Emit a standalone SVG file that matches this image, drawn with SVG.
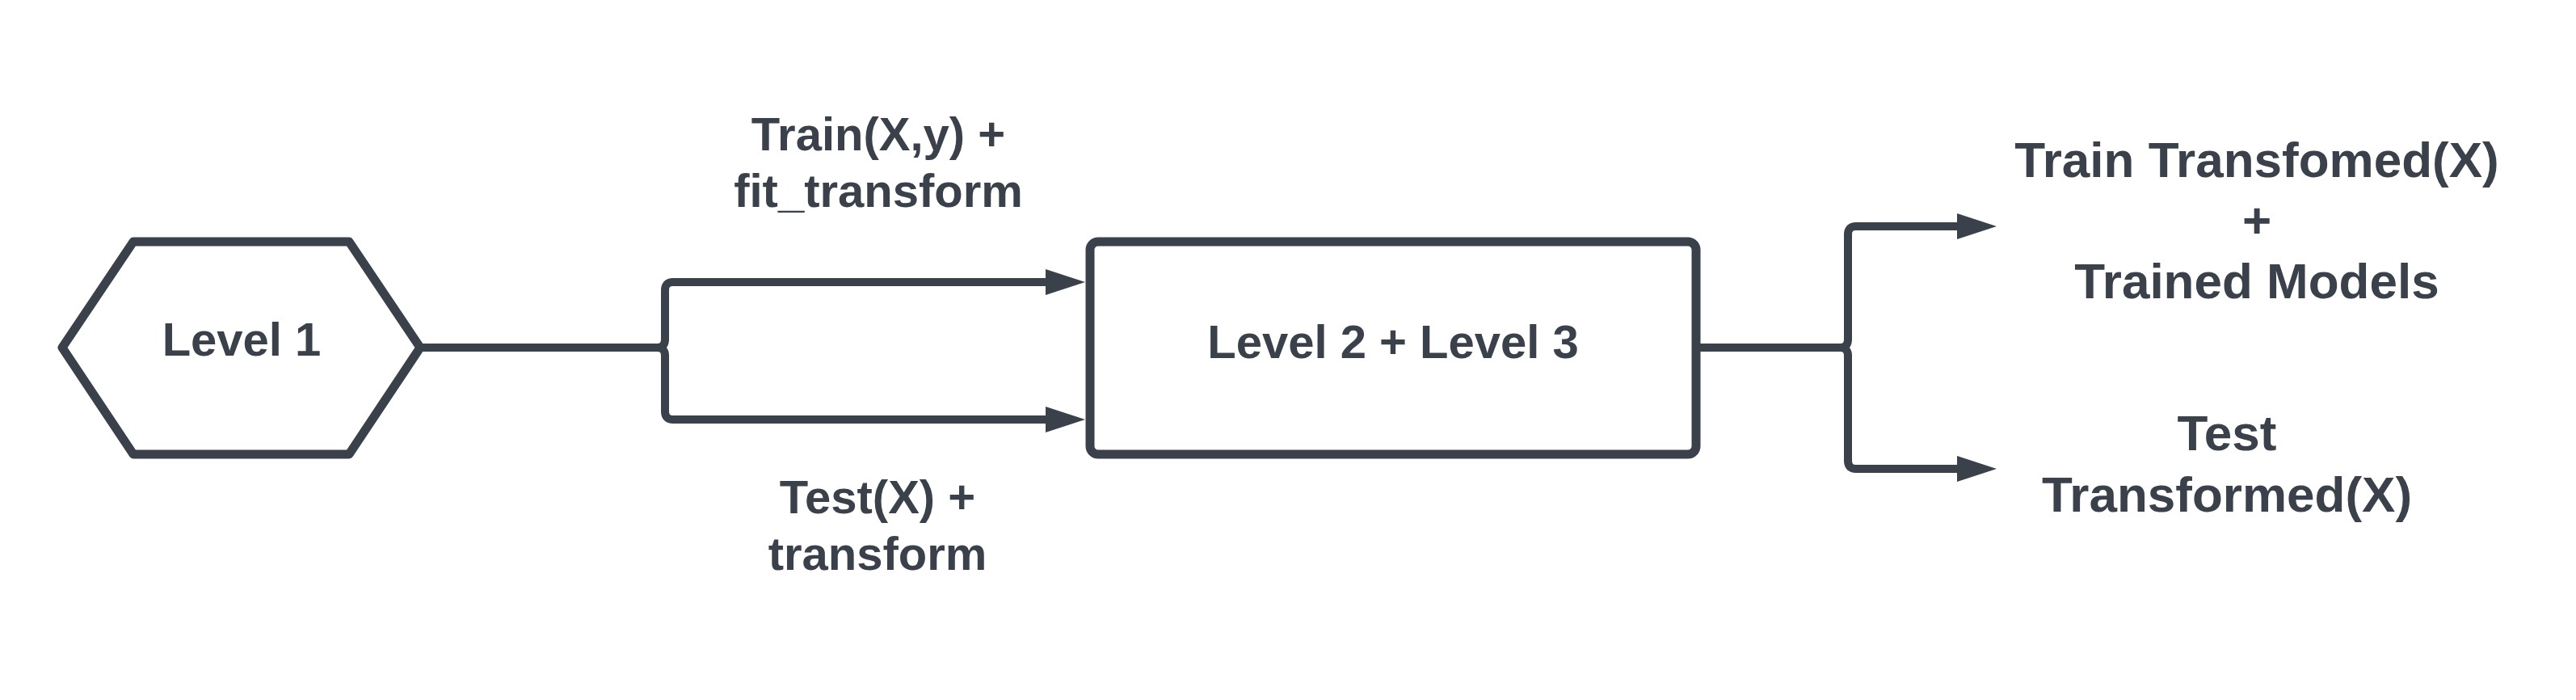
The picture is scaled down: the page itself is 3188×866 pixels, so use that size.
<svg xmlns="http://www.w3.org/2000/svg" width="3188" height="866" viewBox="0 0 3188 866">
<style>
.shape{fill:#ffffff;stroke:#3a414a;stroke-width:11;stroke-linejoin:round}
.conn{fill:none;stroke:#3a414a;stroke-width:10;stroke-linejoin:round}
.t{font-family:"Liberation Sans",Arial,sans-serif;font-weight:bold;font-size:58px;fill:#3a414a;text-anchor:middle}
.big{font-size:62px}
</style>
<defs>
<marker id="arr" viewBox="0 0 49 32" refX="2" refY="16" markerWidth="49" markerHeight="32" markerUnits="userSpaceOnUse" orient="auto">
<path d="M0,0 L49,16 L0,32 Z" fill="#3a414a"/>
</marker>
</defs>
<rect width="3188" height="866" fill="#ffffff"/>
<g id="connectors">
<path class="conn" d="M520,430 H813 Q823,430 823,420 V359 Q823,349 833,349 H1296" marker-end="url(#arr)"/>
<path class="conn" d="M520,430 H813 Q823,430 823,440 V509 Q823,519 833,519 H1296" marker-end="url(#arr)"/>
<path class="conn" d="M2104,430 H2277 Q2287,430 2287,420 V290 Q2287,280 2297,280 H2424" marker-end="url(#arr)"/>
<path class="conn" d="M2104,430 H2277 Q2287,430 2287,440 V570 Q2287,580 2297,580 H2424" marker-end="url(#arr)"/>
</g>
<g id="level1">
<polygon class="shape" points="77,430 165,299 432,299 520,430 432,562 165,562"/>
<text class="t" x="299" y="440">Level 1</text>
</g>
<g id="level23">
<rect class="shape" x="1349" y="299" width="750" height="263" rx="10"/>
<text class="t" x="1724" y="443">Level 2 + Level 3</text>
</g>
<g id="label-train">
<text class="t" x="1087" y="186">Train(X,y) +</text>
<text class="t" x="1087" y="256">fit_transform</text>
</g>
<g id="label-test">
<text class="t" x="1086" y="635">Test(X) +</text>
<text class="t" x="1086" y="705">transform</text>
</g>
<g id="out-train">
<text class="t big" x="2793" y="219">Train Transfomed(X)</text>
<text class="t big" x="2793" y="294">+</text>
<text class="t big" x="2793" y="369">Trained Models</text>
</g>
<g id="out-test">
<text class="t big" x="2756" y="557">Test</text>
<text class="t big" x="2756" y="633">Transformed(X)</text>
</g>
</svg>
